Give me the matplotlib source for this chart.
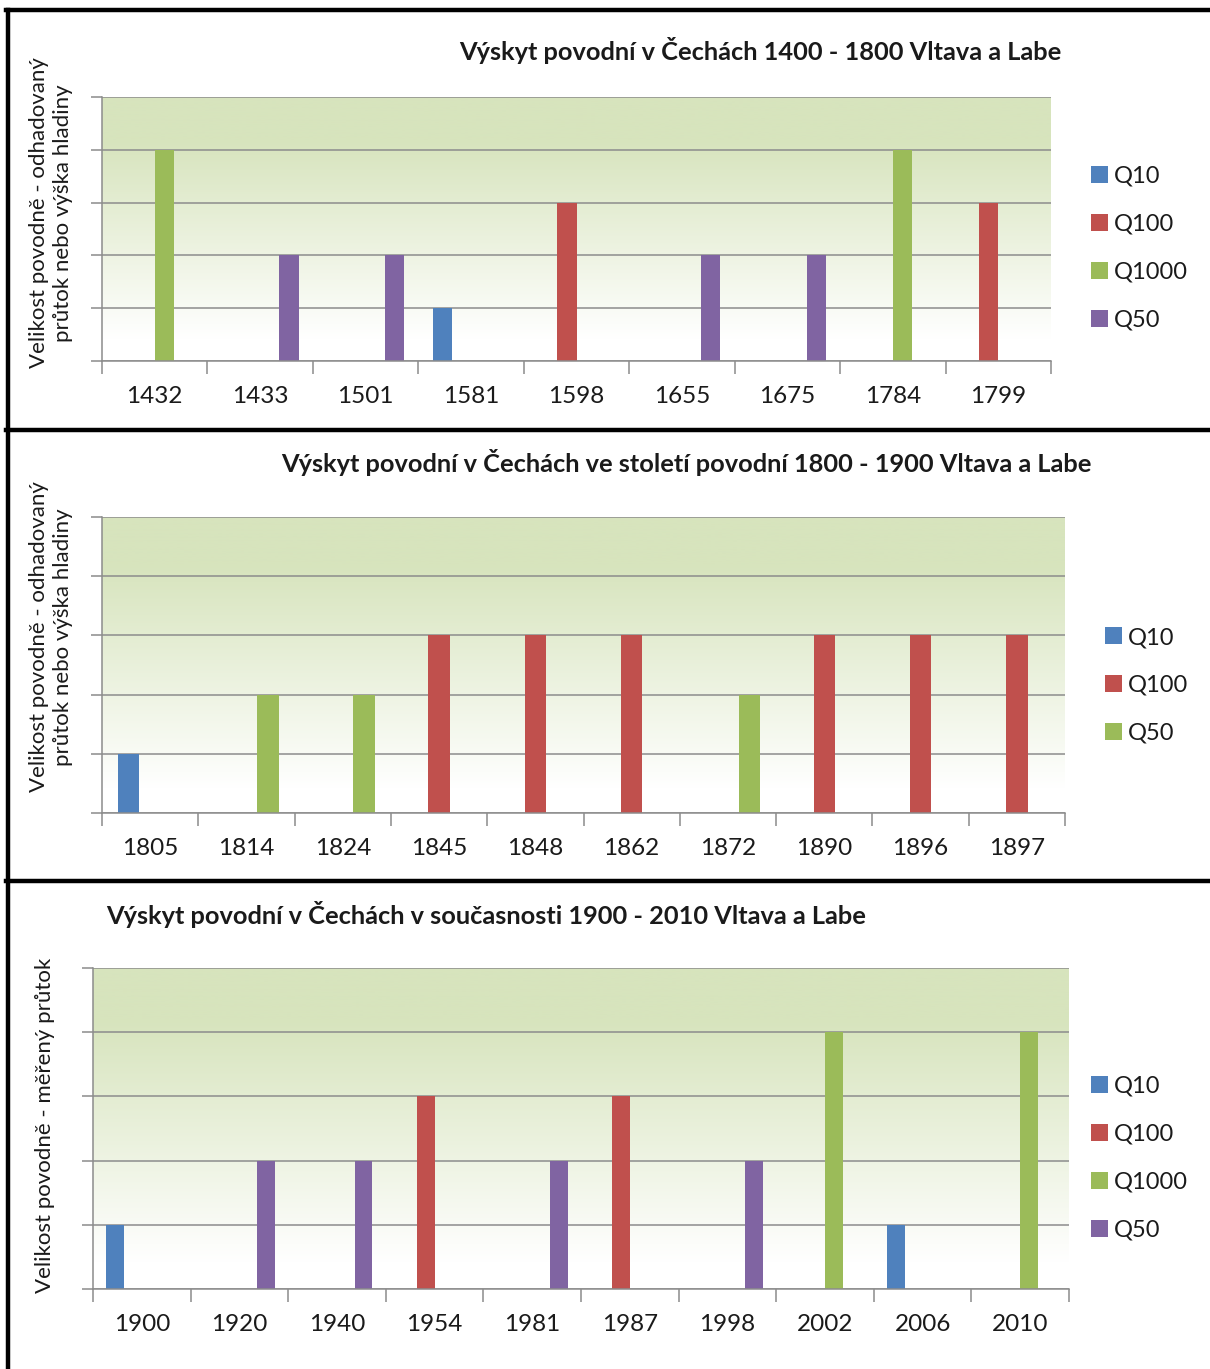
import matplotlib
matplotlib.use("Agg")
import matplotlib.pyplot as plt
import numpy as np
from matplotlib.patches import Patch
from matplotlib.lines import Line2D
from matplotlib.colors import LinearSegmentedColormap

# ---------------- data ----------------
years1 = ["1432", "1433", "1501", "1581", "1598", "1655", "1675", "1784", "1799"]
series1 = ["Q10", "Q100", "Q1000", "Q50"]
q10_1 = [0, 0, 0, 1, 0, 0, 0, 0, 0]
q100_1 = [0, 0, 0, 0, 3, 0, 0, 0, 3]
q1000_1 = [4, 0, 0, 0, 0, 0, 0, 4, 0]
q50_1 = [0, 2, 2, 0, 0, 2, 2, 0, 0]

years2 = ["1805", "1814", "1824", "1845", "1848", "1862", "1872", "1890", "1896", "1897"]
series2 = ["Q10", "Q100", "Q50"]
q10_2 = [1, 0, 0, 0, 0, 0, 0, 0, 0, 0]
q100_2 = [0, 0, 0, 3, 3, 3, 0, 3, 3, 3]
q50_2 = [0, 2, 2, 0, 0, 0, 2, 0, 0, 0]

years3 = ["1900", "1920", "1940", "1954", "1981", "1987", "1998", "2002", "2006", "2010"]
series3 = ["Q10", "Q100", "Q1000", "Q50"]
q10_3 = [1, 0, 0, 0, 0, 0, 0, 0, 1, 0]
q100_3 = [0, 0, 0, 3, 0, 3, 0, 0, 0, 0]
q1000_3 = [0, 0, 0, 0, 0, 0, 0, 4, 0, 4]
q50_3 = [0, 2, 2, 0, 2, 0, 2, 0, 0, 0]

title1 = "Výskyt povodní v Čechách 1400 - 1800 Vltava a Labe"
title2 = "Výskyt povodní v Čechách ve století povodní 1800 - 1900 Vltava a Labe"
title3 = "Výskyt povodní v Čechách v současnosti 1900 - 2010 Vltava a Labe"
ylab12 = "Velikost povodně - odhadovaný\nprůtok nebo výška hladiny"
ylab3 = "Velikost povodně - měřený průtok"

# ---------------- style ----------------
W, H = 1210, 1369
FONT = ["Lato", "DejaVu Sans"]
plt.rcParams["font.family"] = FONT
TXT = "#1a1a1a"
GRID = "#8c8c8c"
COLORS = ["#4f81bd", "#c0504d", "#9bbb59", "#8064a2"]
cmap = LinearSegmentedColormap.from_list("g", ["#ffffff", "#d7e4bd"])

fig = plt.figure(figsize=(W / 100, H / 100), dpi=100)
fig.patch.set_facecolor("white")


def rect(x0, y0, x1, y1):
    return [x0 / W, 1 - y1 / H, (x1 - x0) / W, (y1 - y0) / H]


def panel(box, cats, series, values, colors, title, title_xy, legend_xy):
    ax = fig.add_axes(rect(*box))
    n = len(cats)
    k = len(series)
    bw = 1.0 / (k + 1.5)
    x = np.arange(n)
    ax.set_xlim(-0.5, n - 0.5)
    ax.set_ylim(0, 5)
    # gradient background
    yy = np.linspace(0, 5, 400)
    t = np.clip((yy - 0.4) / 3.8, 0, 1)
    ax.imshow(t[:, None], extent=[-0.5, n - 0.5, 0, 5], origin="lower",
              aspect="auto", cmap=cmap, vmin=0, vmax=1, zorder=0)
    for j, (name, vals, c) in enumerate(zip(series, values, colors)):
        off = (j - (k - 1) / 2) * bw
        ax.bar(x + off, vals, width=bw, color=c, zorder=3, label=name,
               edgecolor="none")
    ax.set_yticks(range(6))
    ax.set_yticklabels([])
    ax.yaxis.grid(True, color=GRID, linewidth=1.1, zorder=1)
    ax.set_axisbelow(False)
    ax.tick_params(axis="y", length=8, color=GRID, width=1.1)
    ax.set_xticks(x)
    ax.set_xticklabels(cats, fontsize=17.5, color=TXT)
    ax.set_xticks(np.arange(n + 1) - 0.5, minor=True)
    ax.tick_params(axis="x", which="major", length=0, pad=18)
    ax.tick_params(axis="x", which="minor", length=9, color=GRID, width=1.1)
    for s in ["top", "right"]:
        ax.spines[s].set_visible(False)
    for s in ["left", "bottom"]:
        ax.spines[s].set_color(GRID)
        ax.spines[s].set_linewidth(1.1)
        ax.spines[s].set_zorder(4)
    fig.text(title_xy[0] / W, 1 - title_xy[1] / H, title, ha="center",
             va="center", fontsize=18.3, fontweight="bold", color=TXT)
    handles = [Patch(facecolor=c, edgecolor="none", label=s)
               for s, c in zip(series, colors)]
    fig.legend(handles=handles, loc="upper left",
               bbox_to_anchor=(legend_xy[0] / W, 1 - legend_xy[1] / H),
               frameon=False, fontsize=17, handlelength=0.7,
               handleheight=0.7, handletextpad=0.25, labelspacing=1.14,
               borderpad=0, borderaxespad=0, labelcolor=TXT)
    return ax


panel((102, 97, 1051, 361), years1, series1, [q10_1, q100_1, q1000_1, q50_1],
      COLORS, title1, (760, 51), (1091, 166))
panel((102, 517, 1065, 813), years2, series2, [q10_2, q100_2, q50_2],
      [COLORS[0], COLORS[1], COLORS[2]], title2, (686, 463), (1105, 627))
panel((93, 968, 1069, 1289), years3, series3, [q10_3, q100_3, q1000_3, q50_3],
      COLORS, title3, (486, 915), (1091, 1076))

# y labels
fig.text(51 / W, 1 - 213 / H, ylab12, rotation=90, ha="center", va="center",
         multialignment="center", fontsize=16, color=TXT, linespacing=1.2)
fig.text(51 / W, 1 - 637 / H, ylab12, rotation=90, ha="center", va="center",
         multialignment="center", fontsize=16, color=TXT, linespacing=1.2)
fig.text(45 / W, 1 - 1125 / H, ylab3, rotation=90, ha="center", va="center",
         fontsize=16, color=TXT)

# panel borders
lw = 3.2
def hline(y):
    fig.add_artist(Line2D([6 / W, 1.0], [1 - y / H, 1 - y / H], color="black",
                          linewidth=lw, transform=fig.transFigure))

hline(10)
hline(430)
hline(881)
fig.add_artist(Line2D([8 / W, 8 / W], [1 - 10 / H, 0], color="black",
                      linewidth=lw, transform=fig.transFigure))

fig.savefig("out.png", dpi=100, facecolor="white")
